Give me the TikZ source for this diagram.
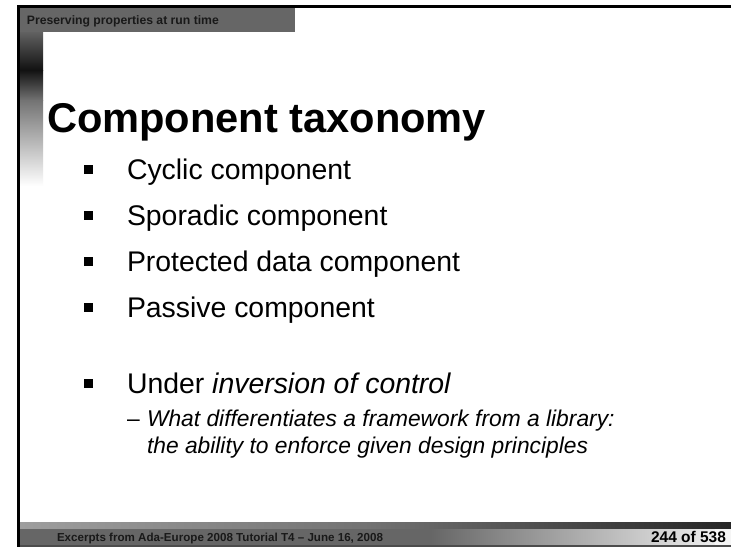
\documentclass[tikz,border=0pt]{standalone}
\usepackage{fontspec}
\setmainfont{Liberation Sans}
\begin{document}
\begin{tikzpicture}[x=1pt,y=-1pt,
  every node/.style={inner sep=0pt,outer sep=0pt,anchor=base west},
  bandtext/.style={font=\fontsize{12.2}{14}\selectfont\bfseries,text=black!90},
  titletext/.style={font=\fontsize{41.6}{48}\selectfont\bfseries},
  itemtext/.style={font=\fontsize{28.4}{34}\selectfont},
  subtext/.style={font=\fontsize{22.8}{27}\selectfont\itshape},
  foottext/.style={font=\fontsize{11.6}{14}\selectfont\bfseries,text=black!90},
  pagetext/.style={font=\fontsize{15.5}{18}\selectfont\bfseries},
  bulletsq/.style={fill=black,minimum size=9pt,inner sep=0pt,anchor=center,draw=none}]
\useasboundingbox (0,0) rectangle (731,547);
\fill[white] (0,0) rectangle (731,547);

% frame lines
\fill[black] (17,5) rectangle (731,7.5);
\fill[black] (17,5) rectangle (20,547);

% header band
\fill[black!60] (20,7.5) rectangle (295,32);

% left fading bar
\shade[top color=black!62,bottom color=black!93] (20,32) rectangle (43,70);
\shade[top color=black!93,bottom color=black!55] (20,70) rectangle (43,100.5);
\shade[top color=black!55,bottom color=white] (20,100) rectangle (43,186);

% footer band
\shade[left color=black!38,right color=black!55] (20,522) rectangle (365,529);
\shade[left color=black!55,right color=black!85] (365,522) rectangle (731,529);
\fill[black!60] (20,529) rectangle (430,545);
\shade[left color=black!60,right color=black!7] (430,529) rectangle (715,545);
\fill[black!4] (715,529) rectangle (731,545);
\fill[black!70] (20,545) rectangle (731,547);

% texts
\node[bandtext] (hdr) at (27,24) {Preserving properties at run time};
\node[titletext] (title) at (47,132) {Component taxonomy};

\node[bulletsq] (b1) at (88,169) {};
\node[bulletsq] (b2) at (88,215) {};
\node[bulletsq] (b3) at (88,261) {};
\node[bulletsq] (b4) at (88,307) {};
\node[bulletsq] (b5) at (88,383) {};

\node[itemtext] (i1) at (127,179) {Cyclic component};
\node[itemtext] (i2) at (127,225) {Sporadic component};
\node[itemtext] (i3) at (127,271) {Protected data component};
\node[itemtext] (i4) at (127,317) {Passive component};
\node[itemtext] (i5) at (127,393) {Under \textit{inversion of control}};

\node[subtext,font=\fontsize{22.8}{27}\selectfont] (dash) at (127,426) {–};
\node[subtext] (s1) at (147,426) {What differentiates a framework from a library:};
\node[subtext] (s2) at (147,453) {the ability to enforce given design principles};

\node[foottext] (foot) at (57,541.5) {Excerpts from Ada-Europe 2008 Tutorial T4 – June 16, 2008};
\node[pagetext,anchor=base east] (page) at (726,542.5) {244 of 538};
\end{tikzpicture}
\end{document}
